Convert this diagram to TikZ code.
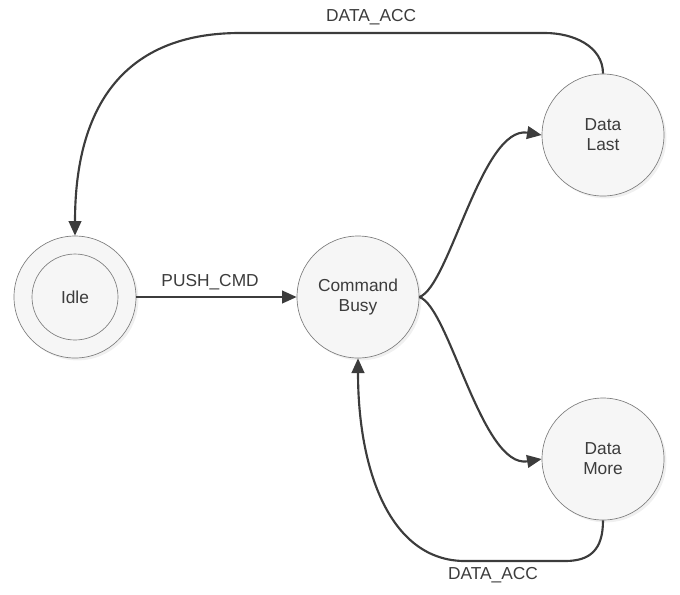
\documentclass[tikz,border=0pt]{standalone}
\usepackage{fontspec}
\setmainfont{Liberation Sans}
\usepackage{tikz}
\usetikzlibrary{arrows.meta, shadows}
\definecolor{ink}{RGB}{60,60,60}
\definecolor{rim}{RGB}{125,125,125}
\definecolor{face}{RGB}{246,246,246}

\begin{document}
\begin{tikzpicture}[x=0.75pt, y=-0.75pt,
  font=\fontsize{13}{15}\selectfont, text=ink,
  state/.style={circle, draw=rim, line width=0.5pt, fill=face,
    minimum size=91.5pt, inner sep=0pt, align=center,
    drop shadow={shadow xshift=1.8pt, shadow yshift=-1.8pt, opacity=0.12}},
  trans/.style={draw=ink, line width=1.6pt, -{Triangle[length=11pt, width=9.5pt]}}]
  \useasboundingbox (0,0) rectangle (680,594);
  % states
  \node[state] (idle) at (75,297) {Idle};
  \draw[rim, line width=0.5pt] (idle.center) circle[radius=43];
  \node[state] (busy) at (358,297) {Command\\Busy};
  \node[state] (last) at (603,135) {Data\\Last};
  \node[state] (more) at (603,459) {Data\\More};
  % transitions
  \draw[trans] (idle.east) -- node[above=1pt, pos=0.46] {PUSH\_CMD} (busy.west);
  \draw[trans] (busy.east) .. controls +(30,-10) and +(-60,-10) .. (last.west);
  \draw[trans] (busy.east) .. controls +(30,10) and +(-60,10) .. (more.west);
  \draw[trans] (last.north) .. controls (603,46) and (573,33) .. (545,33)
    -- node[above=2pt, pos=0.57] {DATA\_ACC} (240,33)
    .. controls (125,33) and (75,105) .. (idle.north);
  \draw[trans] (more.south) .. controls (603,550) and (590,561) .. (565,561)
    -- node[below=1pt, pos=0.72] {DATA\_ACC} (465,561)
    .. controls (390,561) and (358,470) .. (busy.south);
\end{tikzpicture}
\end{document}
